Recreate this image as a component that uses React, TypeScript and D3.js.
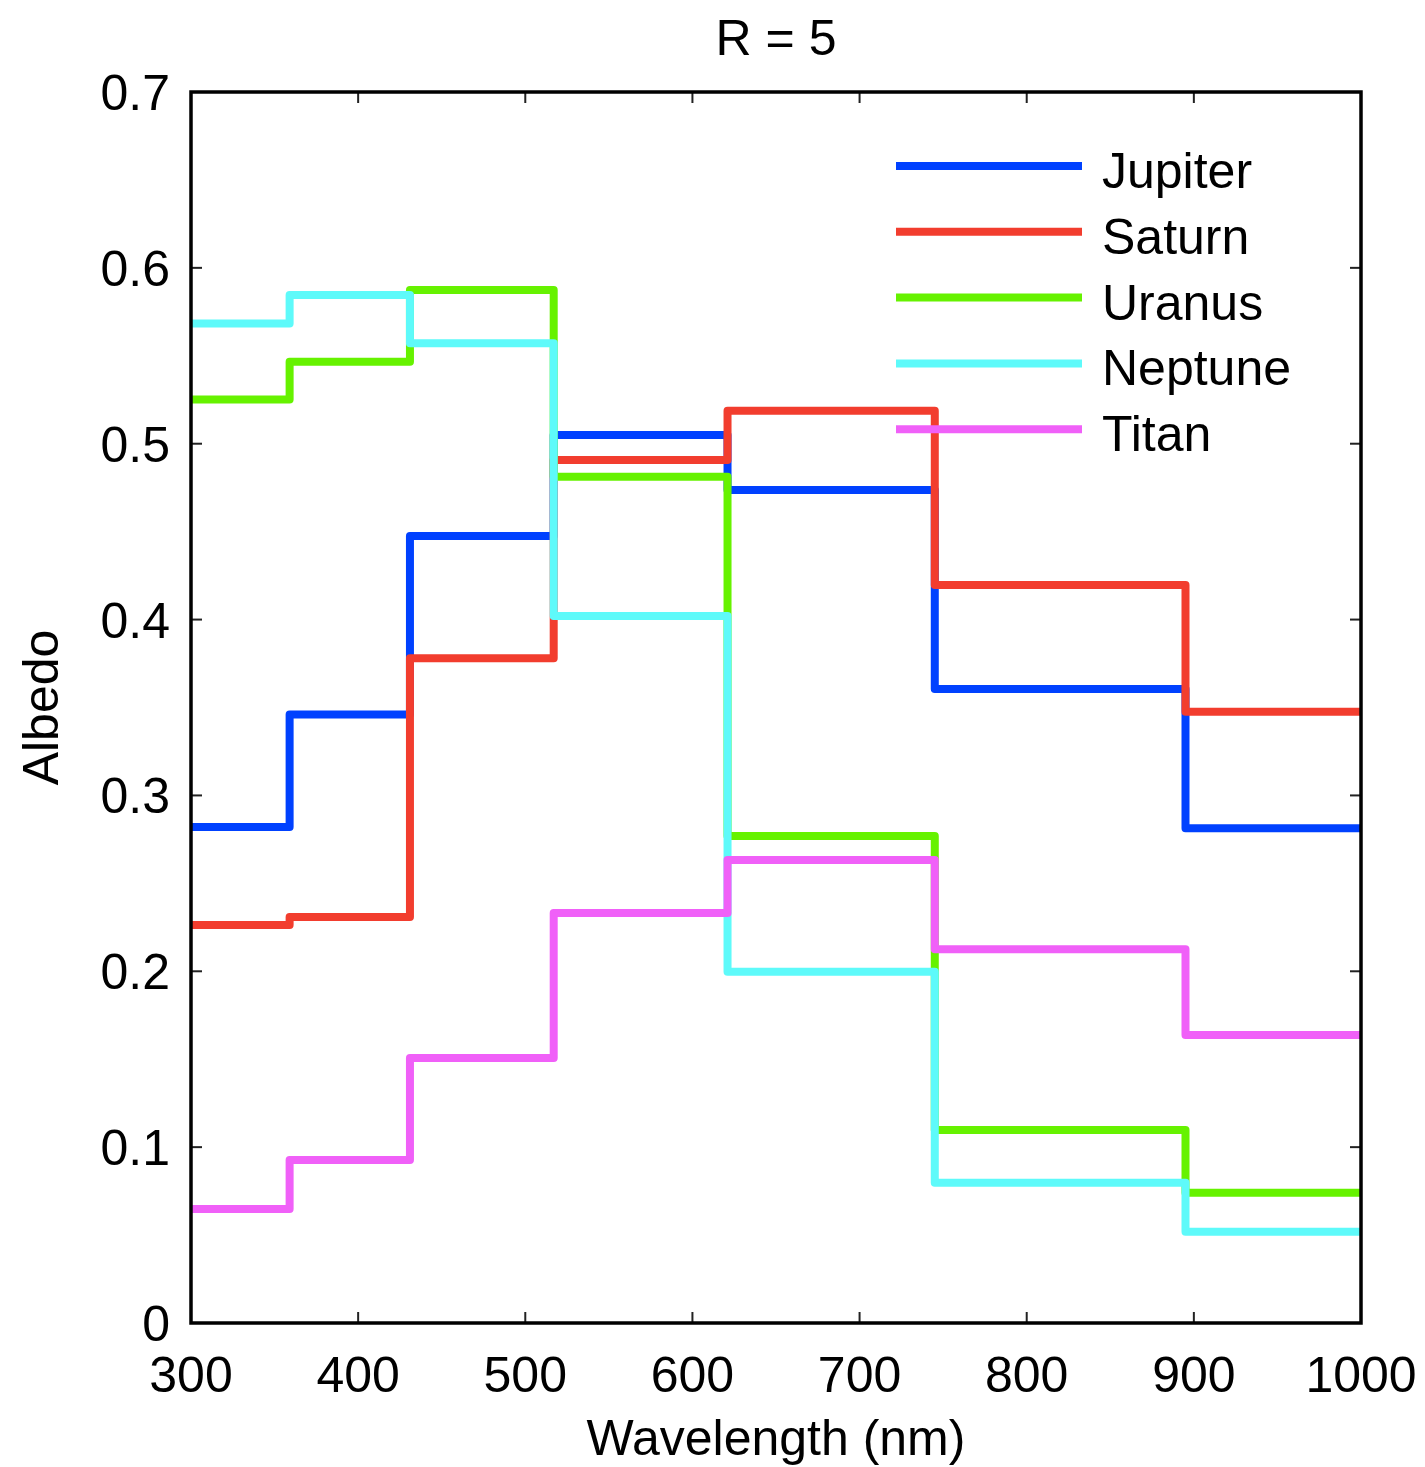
import React from "react";
import * as d3 from "d3";

// Bin edges (nm)
const edges: number[] = [300, 359, 431, 517, 621, 745, 895, 1000];

const seriesNames: string[] = ["Jupiter", "Saturn", "Uranus", "Neptune", "Titan"];
const seriesColors: string[] = ["#0041FF", "#F23D2E", "#66F200", "#5EFAFA", "#F060F8"];

const jupiter: number[] = [0.282, 0.346, 0.4475, 0.505, 0.4737, 0.3605, 0.2813];
const saturn: number[] = [0.2263, 0.2309, 0.378, 0.4907, 0.5188, 0.4197, 0.3476];
const uranus: number[] = [0.5252, 0.5466, 0.5874, 0.4812, 0.2769, 0.1097, 0.0741];
const neptune: number[] = [0.5683, 0.5846, 0.5571, 0.402, 0.1998, 0.0798, 0.0519];
const titan: number[] = [0.0648, 0.0927, 0.1507, 0.2331, 0.2633, 0.2125, 0.1638];

const seriesValues: number[][] = [jupiter, saturn, uranus, neptune, titan];

const xTicks: number[] = [300, 400, 500, 600, 700, 800, 900, 1000];
const yTicks: number[] = [0, 0.1, 0.2, 0.3, 0.4, 0.5, 0.6, 0.7];

const titleText = "R = 5";
const xLabel = "Wavelength (nm)";
const yLabel = "Albedo";

const W = 1425;
const H = 1467;
const left = 191;
const right = 1361;
const top = 92;
const bottom = 1323;
const FONT = "'Liberation Sans', Arial, Helvetica, sans-serif";
const FS = 50;

export default function App() {
  const x = d3.scaleLinear().domain([300, 1000]).range([left, right]);
  const y = d3.scaleLinear().domain([0, 0.7]).range([bottom, top]);

  const line = d3
    .line<[number, number]>()
    .x((d) => x(d[0]))
    .y((d) => y(d[1]))
    .curve(d3.curveStepAfter);

  const paths = seriesValues.map((vals) => {
    const pts: [number, number][] = vals.map((v, i) => [edges[i], v]);
    pts.push([edges[edges.length - 1], vals[vals.length - 1]]);
    return line(pts) || "";
  });

  const tickLen = 11;
  const legendX1 = 896;
  const legendX2 = 1082;
  const legendY0 = 166;
  const legendDy = 65.8;

  return (
    <svg
      width={W}
      height={H}
      viewBox={`0 0 ${W} ${H}`}
      style={{ position: "absolute", left: 0, top: 0, display: "block", background: "#fff" }}
      fontFamily={FONT}
    >
      <rect x={0} y={0} width={W} height={H} fill="#fff" />
      {/* Ticks */}
      {xTicks.map((t) => (
        <g key={"xt" + t} stroke="#222" strokeWidth={2}>
          <line x1={x(t)} x2={x(t)} y1={bottom} y2={bottom - tickLen} />
          <line x1={x(t)} x2={x(t)} y1={top} y2={top + tickLen} />
        </g>
      ))}
      {yTicks.map((t) => (
        <g key={"yt" + t} stroke="#222" strokeWidth={2}>
          <line x1={left} x2={left + tickLen} y1={y(t)} y2={y(t)} />
          <line x1={right} x2={right - tickLen} y1={y(t)} y2={y(t)} />
        </g>
      ))}
      {/* Series */}
      {paths.map((p, i) => (
        <path
          key={seriesNames[i]}
          d={p}
          fill="none"
          stroke={seriesColors[i]}
          strokeWidth={8}
          strokeLinejoin="round"
          strokeLinecap="butt"
        />
      ))}
      {/* Box */}
      <rect
        x={left}
        y={top}
        width={right - left}
        height={bottom - top}
        fill="none"
        stroke="#000"
        strokeWidth={3.5}
      />
      {/* Tick labels */}
      {xTicks.map((t) => (
        <text key={"xl" + t} x={x(t)} y={1392} textAnchor="middle" fontSize={FS} fill="#000">
          {String(t)}
        </text>
      ))}
      {yTicks.map((t) => (
        <text key={"yl" + t} x={170} y={y(t) + 18} textAnchor="end" fontSize={FS} fill="#000">
          {t === 0 ? "0" : t.toFixed(1)}
        </text>
      ))}
      {/* Title and axis labels */}
      <text x={(left + right) / 2} y={55} textAnchor="middle" fontSize={FS} fill="#000">
        {titleText}
      </text>
      <text x={(left + right) / 2} y={1455} textAnchor="middle" fontSize={FS} fill="#000">
        {xLabel}
      </text>
      <text
        transform={`translate(58, ${(top + bottom) / 2}) rotate(-90)`}
        textAnchor="middle"
        fontSize={FS}
        fill="#000"
      >
        {yLabel}
      </text>
      {/* Legend */}
      {seriesNames.map((name, i) => {
        const ly = legendY0 + i * legendDy;
        return (
          <g key={"lg" + name}>
            <line x1={legendX1} x2={legendX2} y1={ly} y2={ly} stroke={seriesColors[i]} strokeWidth={8} />
            <text x={1102} y={ly + 22} fontSize={FS} fill="#000">
              {name}
            </text>
          </g>
        );
      })}
    </svg>
  );
}
